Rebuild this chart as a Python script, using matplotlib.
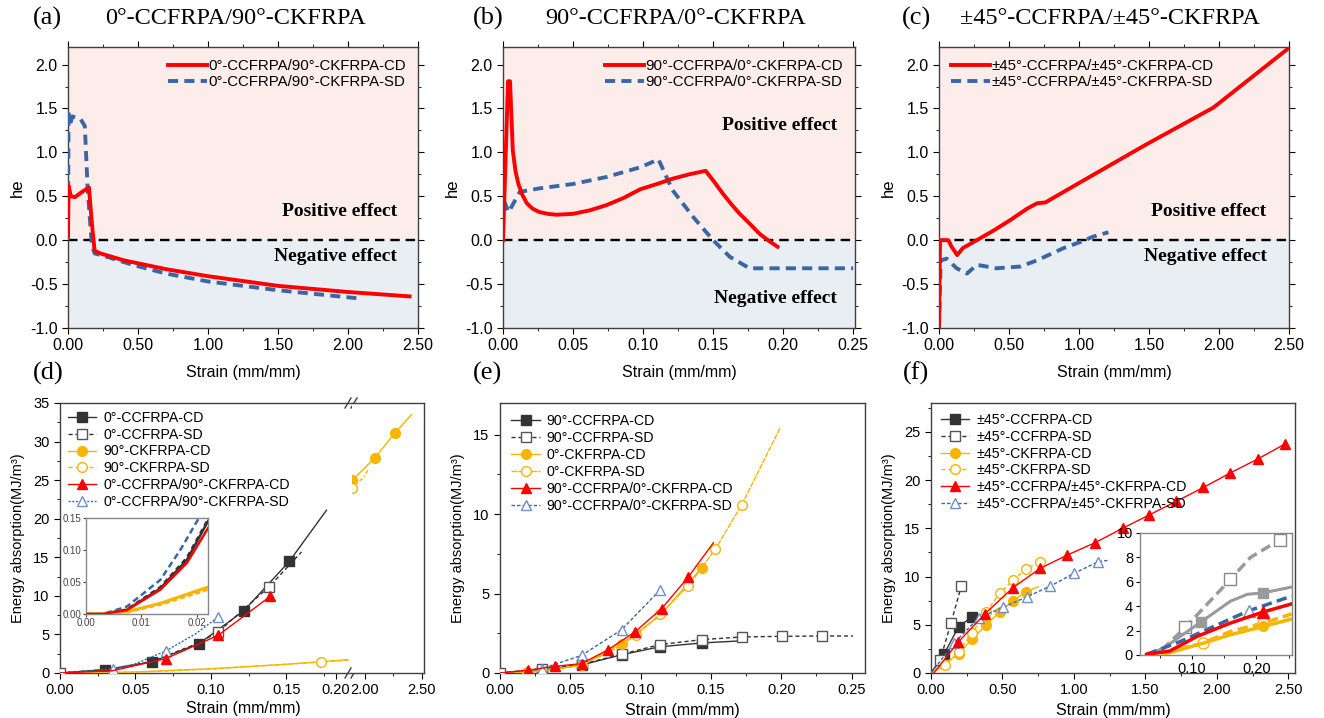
import numpy as np
import matplotlib.pyplot as plt
from matplotlib.ticker import MultipleLocator, FormatStrFormatter

plt.rcParams['font.family'] = ['Liberation Sans', 'DejaVu Sans']
plt.rcParams['axes.unicode_minus'] = False
plt.rcParams['axes.linewidth'] = 1.0
plt.rcParams['axes.edgecolor'] = '#404040'
plt.rcParams['legend.numpoints'] = 1
SERIF = ['Liberation Serif', 'DejaVu Serif']

RED = '#ff0000'
BLUE = '#3a66a6'
BLUE_L = '#6f90c6'
YEL = '#f7b500'
BLK = '#333333'
GRY = '#9a9a9a'
POS = '#fcedeb'
NEG = '#e9eef3'

# ---------------- hybrid effect (he) data ----------------
a_cd_x = [0, 0.004, 0.02, 0.05, 0.10, 0.15, 0.17, 0.19, 0.23, 0.40, 0.70, 1.00, 1.50, 2.00, 2.44]
a_cd_y = [0.05, 0.62, 0.50, 0.49, 0.55, 0.60, 0.20, -0.12, -0.15, -0.23, -0.33, -0.41, -0.52, -0.59, -0.64]
a_sd_x = [0, 0.004, 0.012, 0.03, 0.09, 0.12, 0.14, 0.17, 0.19, 0.30, 0.46, 0.70, 1.00, 1.50, 2.06]
a_sd_y = [0, 1.47, 1.30, 1.41, 1.38, 1.30, 0.60, -0.05, -0.15, -0.20, -0.28, -0.38, -0.47, -0.57, -0.66]

b_cd_x = [0, 0.0036, 0.005, 0.007, 0.009, 0.011, 0.014, 0.017, 0.021, 0.026, 0.032, 0.038, 0.05,
          0.062, 0.074, 0.086, 0.098, 0.11, 0.121, 0.133, 0.1447, 0.151, 0.157, 0.163, 0.169,
          0.176, 0.183, 0.19, 0.196]
b_cd_y = [0, 1.81, 1.81, 1.02, 0.78, 0.64, 0.51, 0.42, 0.36, 0.32, 0.30, 0.29, 0.30,
          0.34, 0.40, 0.48, 0.58, 0.64, 0.70, 0.75, 0.79, 0.66, 0.53, 0.41, 0.30,
          0.19, 0.075, -0.01, -0.075]
b_sd_x = [0.0007, 0.004, 0.012, 0.026, 0.05, 0.074, 0.098, 0.111, 0.121, 0.136, 0.15, 0.162,
          0.176, 0.193, 0.25]
b_sd_y = [0.45, 0.32, 0.55, 0.59, 0.64, 0.72, 0.83, 0.92, 0.57, 0.26, 0.0, -0.19,
          -0.32, -0.32, -0.32]

c_cd_x = [0, 0.007, 0.04, 0.067, 0.09, 0.13, 0.17, 0.27, 0.39, 0.51, 0.63, 0.70, 0.76, 1.01,
          1.48, 1.96, 2.50]
c_cd_y = [-1.0, 0.0, 0.0, 0.0, -0.075, -0.17, -0.09, 0.0, 0.11, 0.23, 0.36, 0.42, 0.43, 0.66,
          1.09, 1.51, 2.19]
c_sd_x = [0, 0.012, 0.055, 0.126, 0.20, 0.27, 0.41, 0.58, 0.70, 0.89, 1.01, 1.10, 1.21]
c_sd_y = [-1.0, -0.23, -0.21, -0.32, -0.38, -0.28, -0.32, -0.30, -0.23, -0.09, -0.02, 0.04, 0.09]

# ---------------- energy absorption data ----------------
# (d) 0/90
d_ccf_cd_x = [0, 0.030, 0.0607, 0.092, 0.1217, 0.152, 0.1765]
d_ccf_cd_y = [0, 0.43, 1.43, 3.8, 8.05, 14.5, 21.1]
d_ccf_sd_x = [0, 0.035, 0.0607, 0.092, 0.1048, 0.1385, 0.160]
d_ccf_sd_y = [0, 0.5, 1.5, 3.9, 5.33, 11.17, 15.7]
d_ckf_cd_x = [0, 0.05, 0.10, 0.15, 0.1908]
d_ckf_cd_y = [0, 0.13, 0.56, 1.13, 1.73]
d_ckf_cd_hi_x = [1.89, 2.088, 2.263, 2.41]
d_ckf_cd_hi_y = [25.0, 27.9, 31.1, 33.5]
d_ckf_sd_x = [0, 0.05, 0.10, 0.1731, 0.1908]
d_ckf_sd_y = [0, 0.10, 0.50, 1.43, 1.65]
d_ckf_sd_hi_x = [1.89, 1.99, 2.026]
d_ckf_sd_hi_y = [24.0, 25.4, 26.3]
d_hyb_cd_x = [0, 0.035, 0.0701, 0.1048, 0.1394]
d_hyb_cd_y = [0, 0.30, 1.86, 4.89, 9.96]
d_hyb_sd_x = [0, 0.0353, 0.05, 0.0701, 0.09, 0.1048]
d_hyb_sd_y = [0, 0.56, 1.2, 2.86, 5.1, 7.28]
# inset of (d)
di_x = [0, 0.003, 0.00735, 0.0134, 0.0182, 0.022]
di_ccf_cd_y = [0, 0.0, 0.0063, 0.040, 0.0847, 0.145]
di_ccf_sd_y = [0, 0.0, 0.0070, 0.042, 0.088, 0.148]
di_hyb_cd_y = [0, 0.0, 0.0060, 0.038, 0.080, 0.134]
di_hyb_sd_x = [0, 0.003, 0.00735, 0.0134, 0.017, 0.0205]
di_hyb_sd_y = [0, 0.0, 0.0115, 0.0533, 0.100, 0.152]
di_ckf_x = [0, 0.003, 0.0074, 0.0134, 0.022]
di_ckf_cd_y = [0, 0.0, 0.0037, 0.0167, 0.042]
di_ckf_sd_y = [0, 0.0, 0.0030, 0.0145, 0.038]

# (e) 90/0
e_ccf_cd_x = [0, 0.0296, 0.058, 0.0865, 0.1137, 0.1434, 0.1706]
e_ccf_cd_y = [0, 0.15, 0.50, 1.15, 1.65, 1.89, 2.02]
e_ccf_sd_x = [0, 0.0296, 0.058, 0.0865, 0.1137, 0.1434, 0.1718, 0.2002, 0.2287, 0.251]
e_ccf_sd_y = [0, 0.27, 0.55, 1.18, 1.79, 2.10, 2.27, 2.31, 2.33, 2.33]
e_ckf_cd_x = [0, 0.0296, 0.058, 0.0865, 0.1137, 0.1434]
e_ckf_cd_y = [0, 0.12, 0.48, 1.85, 3.6, 6.63]
e_ckf_sd_x = [0, 0.0195, 0.039, 0.058, 0.078, 0.097, 0.1137, 0.134, 0.153, 0.1718, 0.199]
e_ckf_sd_y = [0, 0.05, 0.20, 0.55, 1.30, 2.38, 3.70, 5.49, 7.78, 10.58, 15.4]
e_hyb_cd_x = [0, 0.020, 0.039, 0.058, 0.077, 0.096, 0.115, 0.134, 0.1517]
e_hyb_cd_y = [0, 0.17, 0.42, 0.59, 1.47, 2.59, 4.06, 6.06, 8.2]
e_hyb_sd_x = [0, 0.0296, 0.058, 0.0865, 0.1137]
e_hyb_sd_y = [0, 0.27, 1.11, 2.73, 5.22]

# (f) +-45
f_ccf_cd_x = [0, 0.093, 0.193, 0.287]
f_ccf_cd_y = [0, 2.01, 4.79, 5.83]
f_ccf_sd_x = [0, 0.065, 0.14, 0.212]
f_ccf_sd_y = [0, 1.39, 5.2, 9.0]
f_ckf_cd_x = [0, 0.193, 0.287, 0.387, 0.48, 0.573, 0.664, 0.75]
f_ckf_cd_y = [0, 2.0, 3.5, 5.0, 6.3, 7.5, 8.4, 8.95]
f_ckf_sd_x = [0, 0.10, 0.193, 0.287, 0.387, 0.48, 0.573, 0.664, 0.76]
f_ckf_sd_y = [0, 0.8, 2.2, 4.16, 6.35, 8.25, 9.64, 10.75, 11.55]
f_hyb_cd_x = [0.02, 0.19, 0.38, 0.573, 0.764, 0.955, 1.149, 1.34, 1.528, 1.715, 1.906, 2.092, 2.286, 2.477]
f_hyb_cd_y = [0, 3.2, 6.17, 8.84, 10.85, 12.24, 13.52, 15.0, 16.4, 17.79, 19.24, 20.73, 22.19, 23.75]
f_hyb_sd_x = [0, 0.163, 0.333, 0.503, 0.671, 0.834, 1.0, 1.172, 1.25]
f_hyb_sd_y = [0, 3.12, 5.72, 6.8, 7.9, 9.0, 10.33, 11.55, 11.7]
# inset of (f)
fi_ccf_sd_x = [0.03, 0.056, 0.09, 0.128, 0.16, 0.191, 0.237]
fi_ccf_sd_y = [0.05, 0.55, 2.26, 4.4, 6.2, 8.0, 9.46]
fi_ccf_cd_x = [0.03, 0.056, 0.114, 0.16, 0.186, 0.211, 0.255]
fi_ccf_cd_y = [0.05, 0.55, 2.7, 4.41, 4.97, 5.1, 5.57]
fi_hyb_sd_x = [0.03, 0.082, 0.134, 0.188, 0.255]
fi_hyb_sd_y = [0.05, 1.1, 2.34, 3.62, 4.83]
fi_hyb_cd_x = [0.03, 0.066, 0.108, 0.16, 0.211, 0.255]
fi_hyb_cd_y = [0.05, 0.33, 1.52, 2.62, 3.53, 4.19]
fi_ckf_sd_x = [0.056, 0.118, 0.16, 0.211, 0.255]
fi_ckf_sd_y = [0.14, 1.0, 1.93, 2.62, 3.37]
fi_ckf_cd_x = [0.056, 0.118, 0.16, 0.211, 0.255]
fi_ckf_cd_y = [0.06, 0.97, 1.66, 2.34, 2.95]

fig = plt.figure(figsize=(13.24, 7.18), dpi=100)


def px_axes(x0, x1, y0, y1):
    return fig.add_axes([x0 / 1324, (718 - y1) / 718, (x1 - x0) / 1324, (y1 - y0) / 718])


def he_panel(ax, xmax, major, fmt, cd, sd, labels, loc, pos_xy, neg_xy):
    ax.axhspan(0, 2.2, color=POS, lw=0, zorder=0)
    ax.axhspan(-1.0, 0, color=NEG, lw=0, zorder=0)
    ax.axhline(0, color='k', lw=1.7, dashes=(4, 2.5), zorder=2)
    ax.plot(cd[0], cd[1], color=RED, lw=2.8, label=labels[0], zorder=4)
    ax.plot(sd[0], sd[1], color=BLUE, lw=2.8, dashes=(2.6, 1.6), label=labels[1], zorder=3)
    ax.set_xlim(0, xmax)
    ax.set_ylim(-1.0, 2.2)
    ax.xaxis.set_major_locator(MultipleLocator(major))
    ax.xaxis.set_minor_locator(MultipleLocator(major / 2))
    ax.xaxis.set_major_formatter(FormatStrFormatter(fmt))
    ax.yaxis.set_major_locator(MultipleLocator(0.5))
    ax.yaxis.set_minor_locator(MultipleLocator(0.25))
    ax.yaxis.set_major_formatter(FormatStrFormatter('%.1f'))
    ax.tick_params(which='both', direction='out', top=True, right=True, labelsize=11.5)
    ax.tick_params(which='major', length=4)
    ax.tick_params(which='minor', length=2)
    ax.set_xlabel('Strain (mm/mm)', fontsize=11.5, labelpad=8)
    ax.set_ylabel('he', fontsize=12, labelpad=4)
    ax.text(pos_xy[0], pos_xy[1], 'Positive effect', family=SERIF, weight='bold', fontsize=14,
            ha='right', va='center', zorder=5)
    ax.text(neg_xy[0], neg_xy[1], 'Negative effect', family=SERIF, weight='bold', fontsize=14,
            ha='right', va='center', zorder=5)
    ax.legend(loc=loc, frameon=False, fontsize=10.8, handlelength=2.6, handletextpad=0.1,
              labelspacing=0.15, borderaxespad=0.4)


ax_a = px_axes(68, 418, 47, 328)
he_panel(ax_a, 2.5, 0.5, '%.2f', (a_cd_x, a_cd_y), (a_sd_x, a_sd_y),
         ['0°-CCFRPA/90°-CKFRPA-CD', '0°-CCFRPA/90°-CKFRPA-SD'], 'upper right',
         (2.35, 0.33), (2.35, -0.19))
ax_b = px_axes(503, 855, 47, 328)
he_panel(ax_b, 0.2513, 0.05, '%.2f', (b_cd_x, b_cd_y), (b_sd_x, b_sd_y),
         ['90°-CCFRPA/0°-CKFRPA-CD', '90°-CCFRPA/0°-CKFRPA-SD'], 'upper right',
         (0.2385, 1.31), (0.2385, -0.66))
ax_c = px_axes(939, 1289, 47, 328)
he_panel(ax_c, 2.5, 0.5, '%.2f', (c_cd_x, c_cd_y), (c_sd_x, c_sd_y),
         ['±45°-CCFRPA/±45°-CKFRPA-CD', '±45°-CCFRPA/±45°-CKFRPA-SD'], 'upper left',
         (2.34, 0.33), (2.34, -0.19))

fig.text(33 / 1324, 1 - 18 / 718, '(a)', family=SERIF, fontsize=19, va='center')
fig.text(105 / 1324, 1 - 18 / 718, '0°-CCFRPA/90°-CKFRPA', family=SERIF, fontsize=17.5, va='center')
fig.text(473 / 1324, 1 - 18 / 718, '(b)', family=SERIF, fontsize=19, va='center')
fig.text(545 / 1324, 1 - 18 / 718, '90°-CCFRPA/0°-CKFRPA', family=SERIF, fontsize=17.5, va='center')
fig.text(902 / 1324, 1 - 18 / 718, '(c)', family=SERIF, fontsize=19, va='center')
fig.text(960 / 1324, 1 - 18 / 718, '±45°-CCFRPA/±45°-CKFRPA', family=SERIF, fontsize=17.5, va='center')
for xx, lab in [(33, '(d)'), (473, '(e)'), (903, '(f)')]:
    fig.text(xx / 1324, 1 - 373 / 718, lab, family=SERIF, fontsize=19, va='center')


def series(ax, x, y, color, ls, marker, filled, label, mk=None, lw=1.0, ms=7, z=3, mec=None):
    ax.plot(x, y, color=color, ls=ls, lw=lw, marker=marker, ms=ms,
            mfc=color if filled else 'white', mec=mec or color, mew=1.0,
            markevery=mk, label=label, zorder=z)


def lower_style(ax, xmajor, xfmt, ymajor):
    ax.xaxis.set_major_locator(MultipleLocator(xmajor))
    ax.xaxis.set_minor_locator(MultipleLocator(xmajor / 2))
    ax.xaxis.set_major_formatter(FormatStrFormatter(xfmt))
    ax.yaxis.set_major_locator(MultipleLocator(ymajor))
    ax.yaxis.set_minor_locator(MultipleLocator(ymajor / 2))
    ax.tick_params(which='both', direction='out', labelsize=10.5)
    ax.tick_params(which='major', length=4)
    ax.tick_params(which='minor', length=2)


DASH = (0, (3, 2))
DOT = (0, (1.5, 1.2))

# ---------------- (d) with broken x axis ----------------
ax_dl = px_axes(60, 352, 403, 673)
ax_dr = px_axes(352, 424, 403, 673)
series(ax_dl, d_ccf_cd_x, d_ccf_cd_y, BLK, '-', 's', True, '0°-CCFRPA-CD', mk=[1, 2, 3, 4, 5], ms=6.5)
series(ax_dl, d_ccf_sd_x, d_ccf_sd_y, BLK, DASH, 's', False, '0°-CCFRPA-SD', mk=[0, 4, 5], ms=6.5,
       mec='#555555')
series(ax_dl, d_ckf_cd_x, d_ckf_cd_y, YEL, '-', 'o', True, '90°-CKFRPA-CD', mk=[])
series(ax_dl, d_ckf_sd_x, d_ckf_sd_y, YEL, DASH, 'o', False, '90°-CKFRPA-SD', mk=[3])
series(ax_dl, d_hyb_cd_x, d_hyb_cd_y, RED, '-', '^', True, '0°-CCFRPA/90°-CKFRPA-CD', mk=[2, 3, 4],
       ms=7.5, z=4)
series(ax_dl, d_hyb_sd_x, d_hyb_sd_y, BLUE, DOT, '^', False, '0°-CCFRPA/90°-CKFRPA-SD', mk=[1, 3, 5],
       ms=7.5, mec=BLUE_L)
series(ax_dr, d_ckf_cd_hi_x, d_ckf_cd_hi_y, YEL, '-', 'o', True, None, mk=[0, 1, 2])
series(ax_dr, d_ckf_sd_hi_x, d_ckf_sd_hi_y, YEL, (0, (3, 1.5, 1, 1.5)), 'o', False, None, mk=[0])

for ax in (ax_dl, ax_dr):
    ax.set_ylim(0, 35)
    lower_style(ax, 0.05, '%.2f', 5)
ax_dl.set_xlim(0, 0.1934)
ax_dl.set_xticks([0, 0.05, 0.10, 0.15, 0.1825], ['0.00', '0.05', '0.10', '0.15', '0.20'])
ax_dl.xaxis.set_minor_locator(MultipleLocator(0.025))
ax_dl.spines['right'].set_visible(False)
ax_dr.set_xlim(1.886, 2.52)
ax_dr.xaxis.set_major_locator(MultipleLocator(0.5))
ax_dr.xaxis.set_minor_locator(MultipleLocator(0.25))
ax_dr.spines['left'].set_visible(False)
ax_dr.tick_params(which='both', left=False, labelleft=False)
ax_dl.set_ylabel('Energy absorption(MJ/m³)', fontsize=10.5, labelpad=6)
fig.text(243 / 1324, 1 - 708 / 718, 'Strain (mm/mm)', fontsize=11.5, ha='center', va='center')
for yb in (0, 1):
    for dx in (-4, 2):
        x0 = 1 + dx / 292
        ax_dl.plot([x0 - 3 / 292, x0 + 3 / 292], [yb - 5 / 270, yb + 5 / 270], color='#404040',
                   lw=1.0, transform=ax_dl.transAxes, clip_on=False, zorder=6)
ax_dl.legend(loc='upper left', frameon=False, fontsize=10.2, handlelength=2.0, handletextpad=0.5,
             labelspacing=0.2, borderaxespad=0.15)

ax_di = px_axes(86, 208, 518, 614)
ax_di.plot(di_x, di_ccf_cd_y, color=BLK, lw=1.8, zorder=3)
ax_di.plot(di_x, di_ccf_sd_y, color=BLK, lw=1.8, ls=(0, (2, 1.5)), zorder=3)
ax_di.plot(di_x, di_hyb_cd_y, color=RED, lw=1.8, zorder=4)
ax_di.plot(di_hyb_sd_x, di_hyb_sd_y, color=BLUE, lw=1.8, ls=(0, (2.5, 1.5)), zorder=3)
ax_di.plot(di_ckf_x, di_ckf_cd_y, color=YEL, lw=2.2, zorder=3)
ax_di.plot(di_ckf_x, di_ckf_sd_y, color=YEL, lw=1.8, ls=(0, (2, 1.2)), zorder=3)
ax_di.set_xlim(0, 0.022)
ax_di.set_ylim(0, 0.15)
ax_di.xaxis.set_major_locator(MultipleLocator(0.01))
ax_di.yaxis.set_major_locator(MultipleLocator(0.05))
ax_di.xaxis.set_major_formatter(FormatStrFormatter('%.2f'))
ax_di.yaxis.set_major_formatter(FormatStrFormatter('%.2f'))
ax_di.tick_params(labelsize=7, length=2, pad=1, colors='#444444')
for s in ax_di.spines.values():
    s.set_color('#888888')

# ---------------- (e) ----------------
ax_e = px_axes(500, 865, 403, 673)
series(ax_e, e_ccf_cd_x, e_ccf_cd_y, BLK, '-', 's', True, '90°-CCFRPA-CD', mk=[1, 2, 3, 4, 5], ms=6.5)
series(ax_e, e_ccf_sd_x, e_ccf_sd_y, BLK, DASH, 's', False, '90°-CCFRPA-SD',
       mk=[0, 1, 2, 3, 4, 5, 6, 7, 8], ms=6.5, mec='#555555')
series(ax_e, e_ckf_cd_x, e_ckf_cd_y, YEL, '-', 'o', True, '0°-CKFRPA-CD', mk=[2, 3, 5])
series(ax_e, e_ckf_sd_x, e_ckf_sd_y, YEL, (0, (4, 0.8)), 'o', False, '0°-CKFRPA-SD',
       mk=[1, 5, 6, 7, 8, 9])
series(ax_e, e_hyb_cd_x, e_hyb_cd_y, RED, '-', '^', True, '90°-CCFRPA/0°-CKFRPA-CD',
       mk=[1, 2, 3, 4, 5, 6, 7], ms=7.5, z=4)
series(ax_e, e_hyb_sd_x, e_hyb_sd_y, BLUE, (0, (2.5, 1.5)), '^', False, '90°-CCFRPA/0°-CKFRPA-SD',
       mk=[1, 2, 3, 4], ms=7.5, mec=BLUE_L)
ax_e.set_xlim(0, 0.2595)
ax_e.set_ylim(0, 17)
lower_style(ax_e, 0.05, '%.2f', 5)
ax_e.set_xlabel('Strain (mm/mm)', fontsize=11.5, labelpad=4)
ax_e.set_ylabel('Energy absorption(MJ/m³)', fontsize=10.5, labelpad=6)
ax_e.legend(loc='upper left', frameon=False, fontsize=10.2, handlelength=2.0, handletextpad=0.5,
            labelspacing=0.2, borderaxespad=0.4)

# ---------------- (f) ----------------
ax_f = px_axes(931, 1295, 403, 673)
series(ax_f, f_ccf_cd_x, f_ccf_cd_y, BLK, '-', 's', True, '±45°-CCFRPA-CD', mk=[1, 2, 3], ms=6.5)
series(ax_f, f_ccf_sd_x, f_ccf_sd_y, BLK, DASH, 's', False, '±45°-CCFRPA-SD', mk=[1, 2, 3], ms=6.5,
       mec='#555555')
series(ax_f, f_ckf_cd_x, f_ckf_cd_y, YEL, '-', 'o', True, '±45°-CKFRPA-CD', mk=[1, 2, 3, 4, 5, 6])
series(ax_f, f_ckf_sd_x, f_ckf_sd_y, YEL, DASH, 'o', False, '±45°-CKFRPA-SD',
       mk=[1, 2, 3, 4, 5, 6, 7, 8])
series(ax_f, f_hyb_cd_x, f_hyb_cd_y, RED, '-', '^', True, '±45°-CCFRPA/±45°-CKFRPA-CD',
       mk=list(range(1, 14)), ms=7.5, z=4)
series(ax_f, f_hyb_sd_x, f_hyb_sd_y, BLUE, (0, (2.5, 1.5)), '^', False, '±45°-CCFRPA/±45°-CKFRPA-SD',
       mk=[1, 2, 3, 4, 5, 6, 7], ms=7.5, mec=BLUE_L)
ax_f.set_xlim(0, 2.547)
ax_f.set_ylim(0, 28)
lower_style(ax_f, 0.5, '%.2f', 5)
ax_f.set_xlabel('Strain (mm/mm)', fontsize=11.5, labelpad=4)
ax_f.set_ylabel('Energy absorption(MJ/m³)', fontsize=10.5, labelpad=6)
ax_f.legend(loc='upper left', frameon=False, fontsize=10.2, handlelength=2.0, handletextpad=0.5,
            labelspacing=0.2, borderaxespad=0.3)

ax_fi = px_axes(1140, 1292, 533, 655)
series(ax_fi, fi_ccf_sd_x, fi_ccf_sd_y, GRY, (0, (3, 1.5)), 's', False, None, mk=[2, 4, 6], lw=2.5, ms=8,
       mec='#888888')
series(ax_fi, fi_ccf_cd_x, fi_ccf_cd_y, GRY, '-', 's', True, None, mk=[2, 5], lw=2.2, ms=7)
series(ax_fi, fi_hyb_sd_x, fi_hyb_sd_y, BLUE, (0, (3, 1.5)), '^', False, None, mk=[3], lw=2.5, ms=8,
       mec=BLUE_L)
series(ax_fi, fi_hyb_cd_x, fi_hyb_cd_y, RED, '-', '^', True, None, mk=[4], lw=2.5, ms=8, z=4)
series(ax_fi, fi_ckf_sd_x, fi_ckf_sd_y, YEL, (0, (3, 1.5)), 'o', False, None, mk=[1, 3], lw=2.5, ms=8)
series(ax_fi, fi_ckf_cd_x, fi_ckf_cd_y, YEL, '-', 'o', True, None, mk=[3], lw=2.5, ms=7)
ax_fi.set_xlim(0.0197, 0.2554)
ax_fi.set_ylim(0, 10)
ax_fi.xaxis.set_major_locator(MultipleLocator(0.1))
ax_fi.xaxis.set_minor_locator(MultipleLocator(0.05))
ax_fi.xaxis.set_major_formatter(FormatStrFormatter('%.2f'))
ax_fi.yaxis.set_major_locator(MultipleLocator(2))
ax_fi.tick_params(which='both', labelsize=10.5, length=3, pad=2)
ax_fi.tick_params(which='minor', length=2)
for s in ax_fi.spines.values():
    s.set_color('#888888')

fig.savefig('out.png', dpi=100)
